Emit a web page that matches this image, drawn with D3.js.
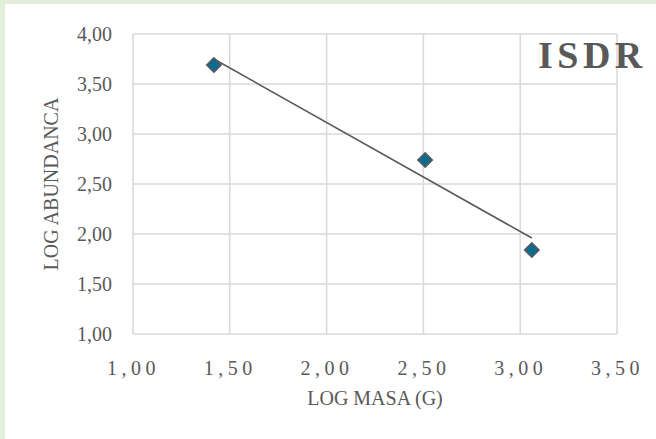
<!DOCTYPE html>
<html>
<head>
<meta charset="utf-8">
<script src="https://cdn.jsdelivr.net/npm/d3@7"></script>
<style>
  html, body { margin: 0; padding: 0; background: #ffffff; }
  svg { display: block; }
</style>
</head>
<body>
<svg id="chart" width="656" height="439"></svg>
<script>
// Log body mass vs. log abundance
const logMasa = [1.418, 2.509, 3.06];
const logAbundanca = [3.69, 2.74, 1.84];
const xTicks = [1.0, 1.5, 2.0, 2.5, 3.0, 3.5];
const yTicks = [1.0, 1.5, 2.0, 2.5, 3.0, 3.5, 4.0];
const titleText = "ISDR";
const xTitle = "LOG MASA (G)";
const yTitle = "LOG ABUNDANCA";

const W = 656, H = 439;
const plot = { left: 133, right: 617, top: 34, bottom: 334 };
const fontFamily = "'Liberation Serif', 'DejaVu Serif', serif";
const textColor = "#595959";
const gridColor = "#d9d9d9";

const svg = d3.select("#chart");

// background frame: pale green edge with white panel
svg.append("rect").attr("width", W).attr("height", H).attr("fill", "#e2efda");
svg.append("rect").attr("x", 5).attr("y", 4).attr("width", W - 5).attr("height", H - 4).attr("fill", "#ffffff");

const x = d3.scaleLinear().domain([1, 3.5]).range([plot.left, plot.right]);
const y = d3.scaleLinear().domain([1, 4]).range([plot.bottom, plot.top]);

const fmt = d => d.toFixed(2).replace(".", ",");

// gridlines
const grid = svg.append("g");
grid.selectAll("line.v").data(xTicks).join("line")
  .attr("x1", d => x(d)).attr("x2", d => x(d))
  .attr("y1", plot.top).attr("y2", plot.bottom)
  .attr("stroke", gridColor).attr("stroke-width", 1.5);
grid.selectAll("line.h").data(yTicks).join("line")
  .attr("x1", plot.left).attr("x2", plot.right)
  .attr("y1", d => y(d)).attr("y2", d => y(d))
  .attr("stroke", gridColor).attr("stroke-width", 1.5);

// y axis tick labels
const yAxis = svg.append("g")
  .attr("transform", `translate(${plot.left - 21},0)`)
  .call(d3.axisLeft(y).tickValues(yTicks).tickFormat(fmt).tickSize(0).tickPadding(0));
yAxis.select(".domain").remove();
yAxis.selectAll("text")
  .attr("font-family", fontFamily).attr("font-size", 20)
  .attr("fill", textColor).attr("dy", "0.34em");

// x axis tick labels (widely spaced digits)
const xAxis = svg.append("g")
  .attr("transform", `translate(0,${plot.bottom})`)
  .call(d3.axisBottom(x).tickValues(xTicks).tickFormat(fmt).tickSize(0).tickPadding(0));
xAxis.select(".domain").remove();
xAxis.selectAll("text")
  .attr("font-family", fontFamily).attr("font-size", 20)
  .attr("fill", textColor).attr("letter-spacing", "4.5px")
  .attr("y", 41).attr("dy", 0);

// axis titles
svg.append("text")
  .attr("x", (plot.left + plot.right) / 2).attr("y", 405)
  .attr("text-anchor", "middle")
  .attr("font-family", fontFamily).attr("font-size", 20)
  .attr("fill", textColor).text(xTitle);

svg.append("text")
  .attr("transform", `translate(58,${(plot.top + plot.bottom) / 2}) rotate(-90)`)
  .attr("text-anchor", "middle")
  .attr("font-family", fontFamily).attr("font-size", 20)
  .attr("fill", textColor).text(yTitle);

// linear trend line (least squares)
const mx = d3.mean(logMasa), my = d3.mean(logAbundanca);
const sxy = d3.sum(logMasa, (v, i) => (v - mx) * (logAbundanca[i] - my));
const sxx = d3.sum(logMasa, v => (v - mx) * (v - mx));
const slope = sxy / sxx, intercept = my - slope * mx;
const [x0, x1] = d3.extent(logMasa);
svg.append("line")
  .attr("x1", x(x0)).attr("y1", y(intercept + slope * x0))
  .attr("x2", x(x1)).attr("y2", y(intercept + slope * x1))
  .attr("stroke", "#595959").attr("stroke-width", 1.6);

// diamond markers
const diamond = d3.symbol().type(d3.symbolSquare).size(105);
svg.append("g").selectAll("path").data(logMasa).join("path")
  .attr("d", diamond)
  .attr("transform", (d, i) => `translate(${x(d)},${y(logAbundanca[i])}) rotate(45)`)
  .attr("fill", "#0f6b8e")
  .attr("stroke", "#595959").attr("stroke-width", 1.5);

// title
svg.append("text")
  .attr("x", 538).attr("y", 68)
  .attr("font-family", fontFamily).attr("font-size", 38)
  .attr("font-weight", "bold").attr("letter-spacing", "4.5px")
  .attr("fill", textColor).text(titleText);
</script>
</body>
</html>
